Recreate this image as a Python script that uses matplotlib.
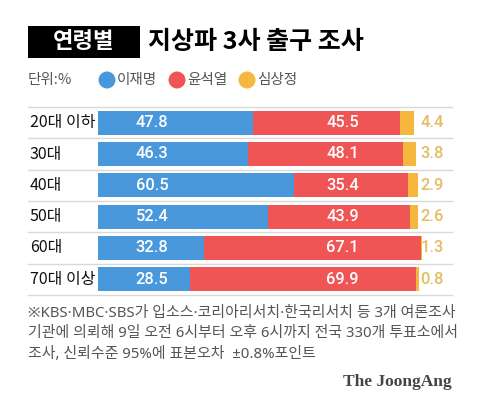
import matplotlib
matplotlib.use("Agg")
import matplotlib.pyplot as plt
from matplotlib.patches import Rectangle, Ellipse
from matplotlib.lines import Line2D

plt.rcParams['font.family'] = ['Noto Sans CJK KR', 'DejaVu Sans']
NOTE_FAM = ['Noto Sans', 'Noto Sans CJK KR', 'DejaVu Sans']

categories = ["20대 이하", "30대", "40대", "50대", "60대", "70대 이상"]
lee = [47.8, 46.3, 60.5, 52.4, 32.8, 28.5]
yoon = [45.5, 48.1, 35.4, 43.9, 67.1, 69.9]
sim = [4.4, 3.8, 2.9, 2.6, 1.3, 0.8]
series_names = ["이재명", "윤석열", "심상정"]

BLUE = "#4a98dc"
RED = "#ef5555"
YELLOW = "#f5b73d"
YTEXT = "#e3bd62"

W, H = 480, 412
fig = plt.figure(figsize=(W / 100, H / 100), dpi=100)
fig.patch.set_facecolor("white")

def fx(px):
    return px / W

def fy(py):
    return 1 - py / H

ax_left, ax_w = 98, 323.5
ax_top, ax_bot = 107, 295
ax = fig.add_axes([fx(ax_left), fy(ax_bot), ax_w / W, (ax_bot - ax_top) / H])
ax.set_xlim(0, 100)
n = len(categories)
ax.set_ylim(n - 0.5, -0.5)
ax.axis("off")

ypos = list(range(n))
bh = 0.77
left2 = [a for a in lee]
left3 = [a + b for a, b in zip(lee, yoon)]
ax.barh(ypos, lee, height=bh, color=BLUE, left=0)
ax.barh(ypos, yoon, height=bh, color=RED, left=left2)
ax.barh(ypos, sim, height=bh, color=YELLOW, left=left3)

VAL_FAM = ['Roboto', 'Noto Sans', 'DejaVu Sans']
for i in range(n):
    ax.text(16.7, i, f"{lee[i]:.1f}", color="white", fontsize=11.8,
            ha="center", va="center", fontweight=500, family=VAL_FAM)
    ax.text(75.6, i, f"{yoon[i]:.1f}", color="white", fontsize=11.8,
            ha="center", va="center", fontweight=500, family=VAL_FAM)
    ax.text(99.6, i, f"{sim[i]:.1f}", color=YTEXT, fontsize=11.8,
            ha="left", va="center", clip_on=False, fontweight=500, family=VAL_FAM)

row_h = (ax_bot - ax_top) / n
for i, c in enumerate(categories):
    cy = ax_top + row_h * (i + 0.5)
    fig.text(fx(30), fy(cy), c, fontsize=11.5, color="#111111", ha="left",
             va="center", fontweight=500)
for i in range(n + 1):
    ly = ax_top + row_h * i
    fig.add_artist(Line2D([fx(28), fx(452)], [fy(ly), fy(ly)], color="#d9d9d9", lw=1.0))

fig.add_artist(Rectangle((fx(28), fy(58)), fx(140) - fx(28), fy(26) - fy(58),
                         facecolor="black", edgecolor="none", transform=fig.transFigure))
fig.text(fx(84), fy(42), "연령별", color="white", fontsize=16, fontweight=900,
         ha="center", va="center")
fig.text(fx(148), fy(42), "지상파 3사 출구 조사", color="black", fontsize=18,
         fontweight=900, ha="left", va="center")

fig.text(fx(28), fy(80), "단위:%", color="#555555", fontsize=10.5, ha="left", va="center")
leg_x = [107, 177, 247]
cols = [BLUE, RED, YELLOW]
for x, c, name in zip(leg_x, cols, series_names):
    e = Ellipse((fx(x), fy(80)), 17 / W, 17 / H, facecolor=c,
                edgecolor="none", transform=fig.transFigure)
    fig.add_artist(e)
    fig.text(fx(x + 10), fy(80), name, color="#555555", fontsize=10.5, ha="left", va="center")

notes = [
    "※KBS·MBC·SBS가 입소스·코리아리서치·한국리서치 등 3개 여론조사",
    "기관에 의뢰해 9일 오전 6시부터 오후 6시까지 전국 330개 투표소에서",
    "조사, 신뢰수준 95%에 표본오차  ±0.8%포인트",
]
for k, t in enumerate(notes):
    fig.text(fx(28), fy(313 + 20.5 * k), t, color="#555555", fontsize=10.75,
             ha="left", va="center", family=NOTE_FAM)

fig.text(fx(452), fy(382), "The JoongAng", color="#444444", fontsize=12.5,
         fontweight="bold", family=["Liberation Serif", "DejaVu Serif"],
         ha="right", va="center")

fig.savefig("out.png", dpi=100, facecolor="white")
